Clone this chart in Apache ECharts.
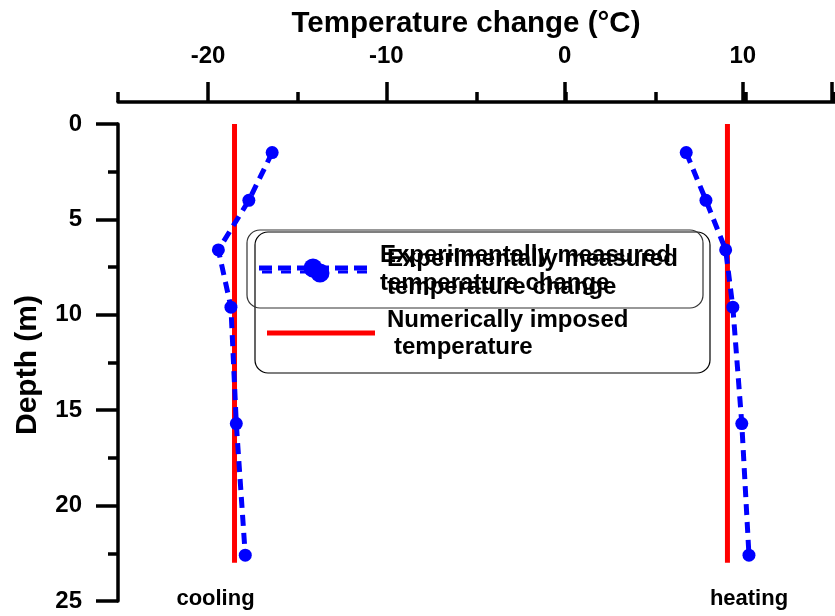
<!DOCTYPE html>
<html>
<head>
<meta charset="utf-8">
<script src="https://cdn.jsdelivr.net/npm/echarts@6/dist/echarts.min.js"></script>
<style>
  html, body { margin: 0; padding: 0; background: #fff; }
  #chart { width: 835px; height: 616px; }
</style>
</head>
<body>
<div id="chart"></div>
<script>
// Measured depths of the sensors (m)
var depths = [1.5, 4, 6.6, 9.6, 15.7, 22.6];
// Measured temperature change at each depth (°C)
var coolingMeasured = [-16.4, -17.7, -19.4, -18.7, -18.4, -17.9];
var heatingMeasured = [6.7, 7.8, 8.9, 9.3, 9.8, 10.2];
// Temperature change imposed in the numerical model (°C), over this depth span (m)
var imposedCooling = -18.5;
var imposedHeating = 9;
var imposedDepths = [0, 23];
// Axis ranges
var tempMin = -25, tempMax = 15;
var depthMin = 0, depthMax = 25;
var tempLabelStep = 10;

var FONT = '"Liberation Sans", Arial, sans-serif';

function pairs(xs, ys) {
  return ys.map(function (y, i) { return [xs[i], y]; });
}
function vertical(x, ys) {
  return ys.map(function (y) { return [x, y]; });
}

var measuredStyle = {
  type: 'line',
  xAxisIndex: 0, yAxisIndex: 0,
  symbol: 'circle', symbolSize: 13,
  itemStyle: { color: '#0000ff' },
  lineStyle: { color: '#0000ff', width: 5, type: [11, 7] },
  z: 3,
  animation: false
};
var imposedStyle = {
  type: 'line',
  xAxisIndex: 0, yAxisIndex: 0,
  symbol: 'none',
  lineStyle: { color: '#ff0000', width: 5 },
  z: 2,
  animation: false
};

var chart = echarts.init(document.getElementById('chart'), null, { renderer: 'canvas' });

var option = {
  backgroundColor: '#ffffff',
  animation: false,
  grid: [
    { left: 118, right: -4, top: 124, bottom: 15 },
    { left: 208, right: -4, top: 124, bottom: 15 }
  ],
  xAxis: [
    {
      type: 'value', gridIndex: 0, position: 'top', offset: 22,
      min: tempMin, max: tempMax, interval: 5,
      axisLine: { show: true, onZero: false, lineStyle: { color: '#000', width: 3.5 } },
      axisTick: { show: true, length: 10, lineStyle: { color: '#000', width: 3.5 } },
      axisLabel: { show: false },
      splitLine: { show: false }
    },
    {
      type: 'value', gridIndex: 1, position: 'top', offset: 22,
      min: -20, max: tempMax, interval: tempLabelStep,
      axisLine: { show: false, onZero: false },
      axisTick: { show: true, length: 20, lineStyle: { color: '#000', width: 3.5 } },
      axisLabel: {
        show: true, margin: 34, color: '#000',
        fontFamily: FONT, fontWeight: 'bold', fontSize: 24,
        formatter: function (v) { return v % tempLabelStep === 0 ? String(v) : ''; }
      },
      splitLine: { show: false }
    }
  ],
  yAxis: [
    {
      type: 'value', gridIndex: 0, inverse: true,
      min: depthMin, max: depthMax, interval: 5,
      axisLine: { show: true, onZero: false, lineStyle: { color: '#000', width: 3.5 } },
      axisTick: { show: true, length: 22, lineStyle: { color: '#000', width: 3.5 } },
      minorTick: { show: true, splitNumber: 2, length: 10, lineStyle: { color: '#000', width: 3.5 } },
      axisLabel: {
        show: true, margin: 36, color: '#000',
        fontFamily: FONT, fontWeight: 'bold', fontSize: 24
      },
      splitLine: { show: false },
      minorSplitLine: { show: false }
    },
    {
      type: 'value', gridIndex: 1, inverse: true, show: false,
      min: depthMin, max: depthMax,
      axisLine: { onZero: false }
    }
  ],
  series: [
    Object.assign({ name: 'Numerically imposed temperature', data: vertical(imposedCooling, imposedDepths) }, imposedStyle),
    Object.assign({ name: 'Numerically imposed temperature', data: vertical(imposedHeating, imposedDepths) }, imposedStyle),
    Object.assign({ name: 'Experimentally measured temperature change', data: pairs(coolingMeasured, depths) }, measuredStyle),
    Object.assign({ name: 'Experimentally measured temperature change', data: pairs(heatingMeasured, depths) }, measuredStyle)
  ],
  graphic: [
    // axis titles
    {
      type: 'text', x: 466, y: 24, z: 10,
      style: {
        text: 'Temperature change (°C)', align: 'center', verticalAlign: 'middle',
        font: 'bold 29.5px ' + FONT, fill: '#000'
      }
    },
    {
      type: 'text', x: 28, y: 365, rotation: Math.PI / 2, z: 10,
      style: {
        text: 'Depth (m)', align: 'center', verticalAlign: 'middle',
        font: 'bold 30px ' + FONT, fill: '#000'
      }
    },
    // case labels under the profiles
    {
      type: 'text', x: 215.5, y: 599, z: 10,
      style: { text: 'cooling', align: 'center', verticalAlign: 'middle', font: 'bold 22px ' + FONT, fill: '#000' }
    },
    {
      type: 'text', x: 749, y: 599, z: 10,
      style: { text: 'heating', align: 'center', verticalAlign: 'middle', font: 'bold 22px ' + FONT, fill: '#000' }
    },
    // legend frames
    {
      type: 'rect', z: 10,
      shape: { x: 255, y: 232, width: 455, height: 141, r: 13 },
      style: { fill: 'rgba(255,255,255,0)', stroke: '#000', lineWidth: 1.2 }
    },
    {
      type: 'rect', z: 10,
      shape: { x: 247, y: 230, width: 456, height: 78, r: 13 },
      style: { fill: 'rgba(255,255,255,0)', stroke: '#333', lineWidth: 1.2 }
    },
    // legend sample: measured
    {
      type: 'line', z: 11,
      shape: { x1: 259, y1: 268, x2: 373, y2: 268 },
      style: { stroke: '#0000ff', lineWidth: 5, lineDash: [13, 6] }
    },
    {
      type: 'line', z: 11,
      shape: { x1: 262, y1: 272, x2: 373, y2: 272 },
      style: { stroke: '#0000ff', lineWidth: 3, lineDash: [10, 9] }
    },
    { type: 'circle', z: 12, shape: { cx: 313, cy: 268, r: 9.5 }, style: { fill: '#0000ff' } },
    { type: 'circle', z: 12, shape: { cx: 320, cy: 273, r: 9.5 }, style: { fill: '#0000ff' } },
    // legend sample: imposed
    {
      type: 'line', z: 11,
      shape: { x1: 267, y1: 333, x2: 375, y2: 333 },
      style: { stroke: '#ff0000', lineWidth: 5 }
    },
    // legend texts
    {
      type: 'text', x: 380, y: 255, z: 12,
      style: { text: 'Experimentally measured', align: 'left', verticalAlign: 'middle', font: 'bold 24px ' + FONT, fill: '#000' }
    },
    {
      type: 'text', x: 387, y: 259, z: 12,
      style: { text: 'Experimentally measured', align: 'left', verticalAlign: 'middle', font: 'bold 24px ' + FONT, fill: '#000' }
    },
    {
      type: 'text', x: 380, y: 283, z: 12,
      style: { text: 'temperature change', align: 'left', verticalAlign: 'middle', font: 'bold 24px ' + FONT, fill: '#000' }
    },
    {
      type: 'text', x: 387, y: 287, z: 12,
      style: { text: 'temperature change', align: 'left', verticalAlign: 'middle', font: 'bold 24px ' + FONT, fill: '#000' }
    },
    {
      type: 'text', x: 387, y: 320, z: 12,
      style: { text: 'Numerically imposed', align: 'left', verticalAlign: 'middle', font: 'bold 24px ' + FONT, fill: '#000' }
    },
    {
      type: 'text', x: 394, y: 347, z: 12,
      style: { text: 'temperature', align: 'left', verticalAlign: 'middle', font: 'bold 24px ' + FONT, fill: '#000' }
    }
  ]
};

chart.setOption(option);
</script>
</body>
</html>
